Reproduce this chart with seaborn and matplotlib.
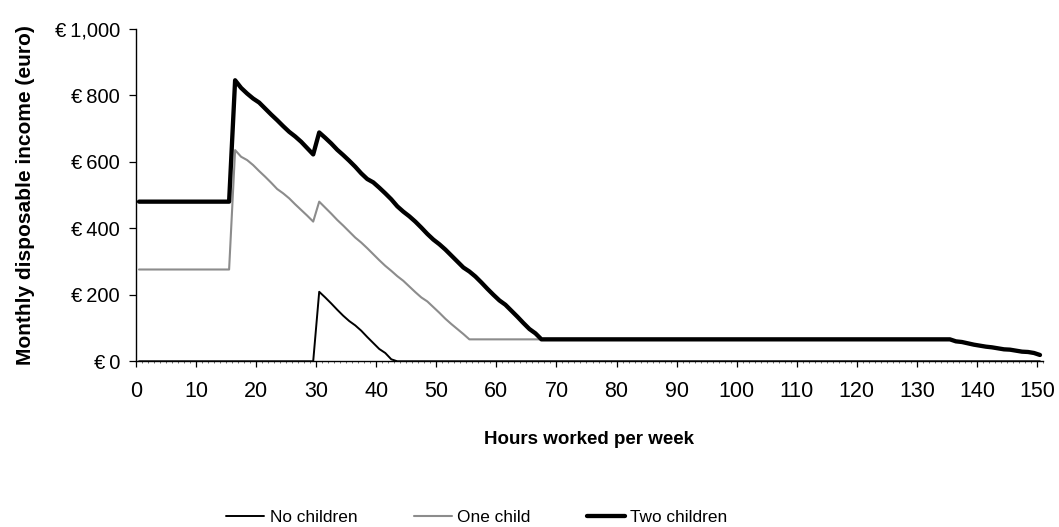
import numpy as np
import pandas as pd
import matplotlib
matplotlib.use("Agg")
import matplotlib.pyplot as plt
import seaborn as sns
from matplotlib.transforms import ScaledTranslation

# ---------------- data ----------------
hours = list(range(0, 151))

no_children = [
    0, 0, 0, 0, 0, 0, 0, 0, 0, 0, 0, 0, 0, 0, 0,
    0, 0, 0, 0, 0, 0, 0, 0, 0, 0, 0, 0, 0, 0, 0,
    209, 192, 174, 155, 137, 121, 108, 92, 73, 55, 37, 25, 6, 0,
    0, 0, 0, 0, 0, 0, 0, 0, 0, 0, 0, 0, 0, 0, 0, 0, 0,
    0, 0, 0, 0, 0, 0, 0, 0, 0, 0, 0, 0, 0, 0, 0, 0, 0,
    0, 0, 0, 0, 0, 0, 0, 0, 0, 0, 0, 0, 0, 0, 0, 0, 0,
    0, 0, 0, 0, 0, 0, 0, 0, 0, 0, 0, 0, 0, 0, 0, 0, 0,
    0, 0, 0, 0, 0, 0, 0, 0, 0, 0, 0, 0, 0, 0, 0, 0, 0,
    0, 0, 0, 0, 0, 0, 0, 0, 0, 0, 0, 0, 0, 0, 0, 0, 0,
    0, 0, 0, 0, 0,
]

one_child = [
    276, 276, 276, 276, 276, 276, 276, 276, 276, 276, 276, 276, 276, 276, 276, 276,
    635, 615, 605, 590, 572, 555, 537, 518, 505, 490, 472, 455, 438, 420,
    480, 462, 444, 425, 408, 390, 372, 357, 340, 322, 304, 287, 272, 256, 242,
    225, 208, 192, 180, 163, 146, 128, 112, 97, 82, 66,
    66, 66, 66, 66, 66, 66, 66, 66, 66, 66, 66, 66, 66, 66, 66, 66,
    66, 66, 66, 66, 66, 66, 66, 66, 66, 66, 66, 66, 66, 66, 66, 66,
    66, 66, 66, 66, 66, 66, 66, 66, 66, 66, 66, 66, 66, 66, 66, 66,
    66, 66, 66, 66, 66, 66, 66, 66, 66, 66, 66, 66, 66, 66, 66, 66,
    66, 66, 66, 66, 66, 66, 66, 66, 66, 66, 66, 66, 66, 66, 66, 66,
    60, 58, 54, 50, 47, 44, 42, 39, 36, 35, 32, 29, 28, 25, 19,
]

two_children = [
    480, 480, 480, 480, 480, 480, 480, 480, 480, 480, 480, 480, 480, 480, 480, 480,
    845, 822, 805, 790, 778, 760, 742, 725, 707, 690, 676, 660, 641, 622,
    688, 672, 655, 636, 620, 603, 585, 565, 548, 538, 522, 505, 487, 466, 450,
    436, 420, 402, 383, 366, 352, 336, 318, 300, 282, 270, 255, 237, 218, 200,
    183, 170, 152, 134, 115, 97, 84, 66,
    66, 66, 66, 66, 66, 66, 66, 66, 66, 66, 66, 66, 66, 66, 66, 66, 66,
    66, 66, 66, 66, 66, 66, 66, 66, 66, 66, 66, 66, 66, 66, 66, 66, 66,
    66, 66, 66, 66, 66, 66, 66, 66, 66, 66, 66, 66, 66, 66, 66, 66, 66,
    66, 66, 66, 66, 66, 66, 66, 66, 66, 66, 66, 66, 66, 66, 66, 66, 66,
    60, 58, 54, 50, 47, 44, 42, 39, 36, 35, 32, 29, 28, 25, 19,
]

series_names = ["No children", "One child", "Two children"]
y_ticks = [0, 200, 400, 600, 800, 1000]
y_tick_labels = ["€\u20090", "€\u2009200", "€\u2009400", "€\u2009600", "€\u2009800", "€\u20091,000"]
x_tick_values = list(range(0, 151, 10))
x_tick_labels = [str(v) for v in x_tick_values]

df = pd.DataFrame({
    "hours": hours,
    "No children": no_children,
    "One child": one_child,
    "Two children": two_children,
})

# ---------------- styling ----------------
sns.set_style("ticks")
plt.rcParams["font.family"] = ["Liberation Sans", "DejaVu Sans"]
plt.rcParams["text.color"] = "black"
plt.rcParams["axes.labelcolor"] = "black"

styles = {
    "No children": dict(color="black", linewidth=1.4, zorder=3),
    "One child": dict(color="#8c8c8c", linewidth=1.5, zorder=4),
    "Two children": dict(color="black", linewidth=3.1, zorder=5),
}

fig = plt.figure(figsize=(10.59, 5.27), dpi=100)
ax = fig.add_axes([136 / 1059, 1 - 361.3 / 527, (1043 - 136) / 1059, (361.3 - 28.7) / 527])

for name in series_names:
    st = styles[name]
    sns.lineplot(data=df, x="hours", y=name, ax=ax, label=name, legend=False,
                 color=st["color"], linewidth=st["linewidth"], zorder=st["zorder"])

ax.set_xlim(-0.5, 150.5)
ax.set_ylim(0, 1000)
ax.set_yticks(y_ticks)
ax.set_yticklabels(y_tick_labels)

# category-style x axis: ticks at category boundaries, labels at category centres
ax.set_xticks([v - 0.5 for v in x_tick_values])
ax.set_xticklabels(x_tick_labels)
ax.set_xticks([h - 0.5 for h in hours] + [150.5], minor=True)
shift = ScaledTranslation(3 / 100, 0, fig.dpi_scale_trans)
for lbl in ax.get_xticklabels():
    lbl.set_transform(lbl.get_transform() + shift)

for side in ["top", "right"]:
    ax.spines[side].set_visible(False)
for side in ["left", "bottom"]:
    ax.spines[side].set_color("black")
    ax.spines[side].set_linewidth(1.0)
    ax.spines[side].set_zorder(2)

ax.tick_params(axis="y", direction="out", length=5, width=0.9, colors="black",
               labelsize=14.5, pad=6.5)
ax.tick_params(axis="x", which="major", direction="out", length=4.5, width=0.9,
               colors="black", labelsize=15.5, pad=10)
ax.tick_params(axis="x", which="minor", direction="out", length=1.5, width=0.6,
               colors="#555555")
ax.grid(False)

ax.set_xlabel("Hours worked per week", fontsize=13.5, fontweight="bold", color="black")
ax.xaxis.set_label_coords(0.5, (361.3 - 439) / 332.6)
ax.xaxis.label.set_va("center")
ax.set_ylabel("Monthly disposable income (euro)", fontsize=15, fontweight="bold", color="black")
ax.yaxis.set_label_coords((25.5 - 136) / 907, 0.5)
ax.yaxis.label.set_va("center")

handles, labels = ax.get_legend_handles_labels()
leg = fig.legend(handles, labels, loc="center", bbox_to_anchor=(477 / 1059, 1 - 517 / 527),
                 ncol=3, frameon=False, fontsize=12.4, handlelength=2.2,
                 handletextpad=0.3, columnspacing=3.3)
for t in leg.get_texts():
    t.set_color("black")

fig.savefig("out.png", dpi=100)
